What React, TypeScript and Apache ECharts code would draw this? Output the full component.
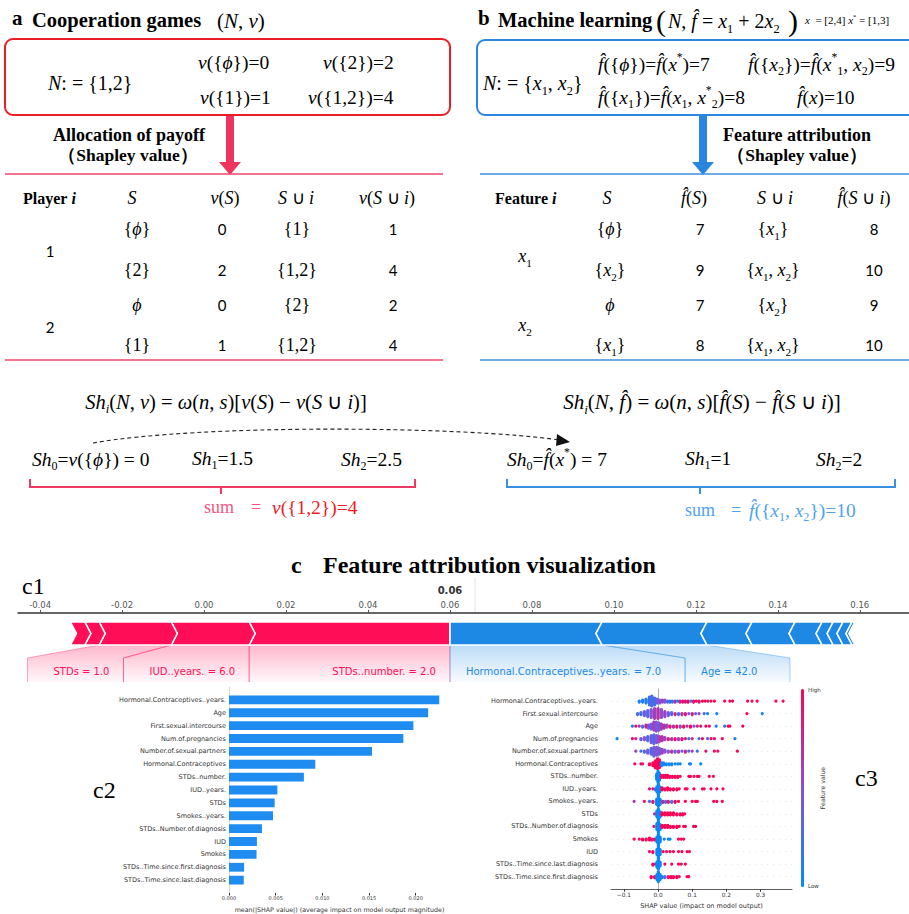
import React, { useEffect, useRef } from 'react';
import * as echarts from 'echarts';

const SERIF = "'Liberation Serif','Times New Roman',serif";
const SANS = "'DejaVu Sans',sans-serif";
const CAL = "Lato,'Open Sans',sans-serif";

// ---------- panel a data ----------
const coopSetValues = ['~v~({~ϕ~})=0', '~v~({2})=2', '~v~({1})=1', '~v~({1,2})=4'];
const tableAHeader = ['Player ~i~', '~S~', '~v~(~S~)', '~S~ ∪ ~i~', '~v~(~S~ ∪ ~i~)'];
const tableAPlayers = ['1', '2'];
const tableAS = ['{~ϕ~}', '{2}', '~ϕ~', '{1}'];
const tableAvS = ['0', '2', '0', '1'];
const tableASi = ['{1}', '{1,2}', '{2}', '{1,2}'];
const tableAvSi = ['1', '4', '2', '4'];
const shapA = ['~Sh~_{0}=~v~({~ϕ~}) = 0', '~Sh~_{1}=1.5', '~Sh~_{2}=2.5'];

// ---------- panel b data ----------
const mlSetValues = [
  '~f\u0302~({~ϕ~})=~f\u0302~(~x~^{*})=7',
  '~f\u0302~({~x~_{2}})=~f\u0302~(~x~^{*}_{1}, ~x~_{2})=9',
  '~f\u0302~({~x~_{1}})=~f\u0302~(~x~_{1}, ~x~^{*}_{2})=8',
  '~f\u0302~(~x~)=10',
];
const tableBHeader = ['Feature ~i~', '~S~', '~f\u0302~(~S~)', '~S~ ∪ ~i~', '~f\u0302~(~S~ ∪ ~i~)'];
const tableBFeatures = ['~x~_{1}', '~x~_{2}'];
const tableBS = ['{~ϕ~}', '{~x~_{2}}', '~ϕ~', '{~x~_{1}}'];
const tableBfS = ['7', '9', '7', '8'];
const tableBSi = ['{~x~_{1}}', '{~x~_{1}, ~x~_{2}}', '{~x~_{2}}', '{~x~_{1}, ~x~_{2}}'];
const tableBfSi = ['8', '10', '9', '10'];
const shapB = ['~Sh~_{0}=~f\u0302~(~x~^{*}) = 7', '~Sh~_{1}=1', '~Sh~_{2}=2'];

// ---------- c1 force plot data ----------
const forceOut = 0.06;
const forceTicks = [-0.04, -0.02, 0, 0.02, 0.04, 0.06, 0.08, 0.1, 0.12, 0.14, 0.16];
const redFeat = ['STDs..number.', 'IUD..years.', 'STDs', '', ''];
const redFeatVal = ['2.0', '6.0', '1.0', '', ''];
const redShap = [0.049, 0.019, 0.0176, 0.0035, 0.0035];
const blueFeat = ['Hormonal.Contraceptives..years.', 'Age', '', '', '', '', '', '', ''];
const blueFeatVal = ['7.0', '42.0', '', '', '', '', '', '', ''];
const blueShap = [0.0371, 0.0256, 0.011, 0.0105, 0.0066, 0.0027, 0.0024, 0.0022, 0.0007];

// ---------- c2 bar data ----------
const c2Features = [
  'Hormonal.Contraceptives..years.', 'Age', 'First.sexual.intercourse', 'Num.of.pregnancies',
  'Number.of.sexual.partners', 'Hormonal.Contraceptives', 'STDs..number.', 'IUD..years.', 'STDs',
  'Smokes..years.', 'STDs..Number.of.diagnosis', 'IUD', 'Smokes',
  'STDs..Time.since.first.diagnosis', 'STDs..Time.since.last.diagnosis',
];
const c2Values = [0.02252, 0.02133, 0.01975, 0.01867, 0.01532, 0.00924, 0.00802, 0.00518, 0.00489,
  0.00471, 0.00353, 0.00299, 0.00295, 0.00162, 0.00158];
const c2Ticks = [0, 0.005, 0.01, 0.015, 0.02];

// ---------- c3 beeswarm data: [shap, featureValue(0 low..1 high), count] ----------
const c3Features = [
  'Hormonal.Contraceptives..years.', 'First.sexual.intercourse', 'Age', 'Num.of.pregnancies',
  'Number.of.sexual.partners', 'Hormonal.Contraceptives', 'STDs..number.', 'IUD..years.',
  'Smokes..years.', 'STDs', 'STDs..Number.of.diagnosis', 'Smokes', 'IUD',
  'STDs..Time.since.last.diagnosis', 'STDs..Time.since.first.diagnosis',
];
const c3Ticks = [-0.1, 0, 0.1, 0.2, 0.3];
const hcYears = [[-0.055, 0.1, 2], [-0.045, 0.1, 3], [-0.035, 0.15, 5], [-0.025, 0.2, 9], [-0.018, 0.3, 11], [-0.01, 0.2, 8], [-0.003, 0.4, 5], [0.005, 0.5, 4], [0.013, 0.6, 3], [0.02, 0.5, 3],
  [0.028, 0.3, 2], [0.035, 0.1, 2], [0.042, 0.2, 2], [0.05, 0.7, 2], [0.057, 0.1, 1], [0.064, 0.8, 2], [0.072, 0.9, 2], [0.08, 0.85, 2], [0.088, 0.95, 2], [0.096, 0.3, 1], [0.104, 0.9, 2], [0.112, 0.95, 1], [0.12, 0.9, 2], [0.13, 1, 1], [0.138, 0.95, 1], [0.146, 0.9, 1], [0.155, 1, 1], [0.165, 0.95, 1], [0.195, 1, 1], [0.21, 0.9, 1], [0.218, 1, 1], [0.262, 1, 1], [0.275, 0.95, 1], [0.29, 1, 1], [0.345, 1, 1], [0.366, 0.95, 1]];
const firstSex = [[-0.06, 0.3, 2], [-0.05, 0.2, 3], [-0.04, 0.4, 5], [-0.03, 0.3, 7], [-0.02, 0.5, 9], [-0.01, 0.6, 11], [0.0, 0.7, 11], [0.01, 0.5, 9], [0.02, 0.6, 6], [0.03, 0.4, 4],
  [0.04, 0.3, 3], [0.05, 0.8, 2], [0.06, 0.2, 2], [0.07, 0.7, 2], [0.08, 0.9, 2], [0.09, 0.4, 1], [0.1, 0.8, 2], [0.11, 0.3, 1], [0.12, 0.6, 1], [0.135, 0.2, 1], [0.145, 0.1, 1], [0.172, 0.05, 1], [0.26, 1, 1], [0.305, 0.05, 1]];
const age = [[-0.075, 0.1, 1], [-0.065, 0.9, 1], [-0.055, 0.7, 1], [-0.045, 0.2, 2], [-0.035, 0.8, 3], [-0.028, 0.5, 4], [-0.02, 0.4, 6], [-0.012, 0.6, 9], [-0.005, 0.5, 10], [0.003, 0.4, 8], [0.01, 0.6, 6], [0.018, 0.7, 4], [0.026, 0.6, 3],
  [0.035, 0.9, 2], [0.045, 0.7, 2], [0.055, 0.85, 2], [0.065, 0.6, 2], [0.075, 0.9, 2], [0.085, 0.7, 1], [0.095, 0.95, 2], [0.105, 0.5, 1], [0.115, 0.8, 1], [0.125, 0.9, 1], [0.14, 1, 1], [0.15, 0.9, 1], [0.17, 0.1, 1], [0.195, 0.1, 1], [0.205, 0.95, 1], [0.21, 1, 1], [0.248, 1, 1]];
const numPreg = [[-0.12, 0.05, 1], [-0.075, 0.9, 1], [-0.065, 0.8, 1], [-0.05, 0.4, 2], [-0.04, 0.5, 3], [-0.03, 0.3, 5], [-0.02, 0.4, 8], [-0.012, 0.3, 10], [-0.004, 0.5, 8], [0.004, 0.6, 6], [0.012, 0.7, 5], [0.02, 0.6, 3],
  [0.03, 0.8, 2], [0.04, 0.7, 2], [0.05, 0.9, 2], [0.06, 0.6, 2], [0.07, 0.85, 2], [0.08, 0.9, 1], [0.09, 0.1, 1], [0.1, 0.8, 1], [0.12, 0.2, 1], [0.13, 0.9, 1], [0.145, 0.3, 1], [0.155, 0.95, 1], [0.165, 0.9, 1], [0.188, 1, 1], [0.225, 0.1, 1]];
const numPartners = [[-0.065, 0.6, 1], [-0.05, 0.2, 1], [-0.04, 0.3, 2], [-0.03, 0.4, 4], [-0.02, 0.3, 7], [-0.012, 0.4, 10], [-0.004, 0.5, 9], [0.004, 0.4, 7], [0.012, 0.6, 5], [0.02, 0.5, 3],
  [0.03, 0.5, 2], [0.04, 0.7, 2], [0.05, 0.4, 2], [0.06, 0.6, 2], [0.07, 0.5, 1], [0.08, 0.7, 2], [0.09, 0.3, 1], [0.1, 0.6, 1], [0.115, 0.2, 1], [0.14, 0.9, 1], [0.165, 0.95, 1], [0.175, 0.9, 1], [0.232, 1, 1]];
const hc = [[-0.068, 1, 1], [-0.05, 0.95, 1], [-0.045, 0.9, 1], [-0.025, 0.95, 2], [-0.015, 1, 4], [-0.008, 1, 8], [-0.002, 0.95, 11], [0.004, 1, 9], [0.01, 0.1, 4], [0.016, 0.05, 3], [0.024, 0.05, 2], [0.032, 0, 2], [0.04, 0.05, 2], [0.05, 0, 1], [0.058, 0.05, 1], [0.065, 0, 1], [0.092, 0, 1], [0.095, 0.05, 1], [0.125, 0, 1]];
const stdsNumber = [[-0.004, 0, 6], [0, 0, 12], [0.004, 0.05, 8], [0.01, 0.9, 3], [0.016, 1, 3], [0.022, 0.95, 3], [0.028, 1, 3], [0.035, 0.9, 2], [0.042, 1, 2], [0.05, 0.95, 2], [0.058, 1, 2], [0.065, 0.9, 1], [0.09, 1, 1], [0.095, 1, 1], [0.105, 0.95, 1], [0.115, 1, 1], [0.12, 1, 1], [0.15, 1, 1], [0.162, 0.95, 1]];
const iudYears = [[-0.025, 0.9, 1], [-0.015, 0.95, 1], [-0.008, 0.3, 2], [-0.003, 0, 6], [0.001, 0, 12], [0.005, 0.05, 6], [0.012, 1, 3], [0.02, 0.95, 2], [0.028, 1, 3], [0.036, 0.9, 2], [0.045, 1, 2], [0.055, 0.95, 2], [0.062, 1, 1], [0.08, 1, 1], [0.085, 0.95, 1], [0.105, 1, 1], [0.13, 1, 1], [0.135, 0.95, 1], [0.155, 1, 1], [0.172, 1, 1], [0.19, 0.95, 1]];
const smokesYears = [[-0.07, 0.6, 1], [-0.04, 0.9, 1], [-0.025, 0.2, 1], [-0.015, 0.9, 2], [-0.004, 0, 6], [0.001, 0.05, 11], [0.006, 0, 6], [0.014, 0.8, 2], [0.022, 0.3, 2], [0.03, 0.9, 2], [0.04, 0.2, 2], [0.05, 0.95, 2], [0.06, 1, 1], [0.08, 1, 1], [0.1, 1, 1], [0.11, 0.95, 1], [0.115, 1, 1], [0.163, 1, 1], [0.172, 0.95, 1], [0.188, 1, 1]];
const stds = [[-0.01, 0.9, 1], [-0.003, 0, 7], [0.001, 0, 12], [0.006, 0.05, 6], [0.012, 1, 3], [0.02, 1, 3], [0.028, 0.95, 3], [0.036, 1, 3], [0.045, 1, 3], [0.055, 0.95, 2], [0.065, 1, 2], [0.072, 1, 2], [0.078, 0.95, 1]];
const stdsNumDiag = [[-0.012, 0.9, 1], [-0.003, 0, 7], [0.001, 0, 12], [0.006, 0.05, 6], [0.012, 1, 3], [0.02, 0.95, 3], [0.028, 1, 3], [0.036, 1, 2], [0.045, 0.95, 2], [0.055, 1, 2], [0.062, 1, 1], [0.075, 1, 1], [0.08, 0.95, 1], [0.104, 1, 1], [0.11, 1, 1]];
const smokes = [[-0.07, 1, 1], [-0.055, 0.9, 1], [-0.045, 1, 2], [-0.035, 0.95, 2], [-0.025, 1, 3], [-0.018, 0.9, 2], [-0.01, 1, 2], [-0.003, 0, 6], [0.001, 0, 12], [0.006, 0.05, 6], [0.018, 0.1, 1], [0.03, 0, 1], [0.035, 0.05, 1], [0.06, 1, 1], [0.068, 0.95, 1], [0.075, 1, 1]];
const iud = [[-0.025, 0.95, 1], [-0.015, 1, 2], [-0.003, 0, 6], [0.001, 0, 12], [0.006, 0.05, 6], [0.015, 1, 1], [0.025, 0.95, 1], [0.035, 1, 1], [0.045, 1, 1], [0.06, 0.95, 1], [0.07, 1, 1], [0.085, 1, 1], [0.092, 0.95, 1]];
const stdsTimeLast = [[-0.015, 1, 2], [-0.008, 0.9, 1], [-0.003, 0, 6], [0.001, 0, 11], [0.006, 0.05, 5], [0.02, 1, 1], [0.04, 0.95, 1], [0.06, 1, 1], [0.068, 0.95, 1], [0.08, 1, 1]];
const stdsTimeFirst = [[-0.02, 1, 2], [-0.01, 0.9, 2], [-0.003, 0, 6], [0.001, 0, 11], [0.006, 0.05, 6], [0.012, 0.1, 2], [0.02, 0.3, 2], [0.03, 0.9, 2], [0.038, 1, 2], [0.045, 0.95, 2], [0.055, 1, 2], [0.062, 0.9, 1], [0.085, 1, 1], [0.09, 0.95, 1]];
const c3Rows = [hcYears, firstSex, age, numPreg, numPartners, hc, stdsNumber, iudYears, smokesYears, stds, stdsNumDiag, smokes, iud, stdsTimeLast, stdsTimeFirst];

// ---------- helpers ----------
function parseMarkup(src: string): string {
  let out = '';
  let it = false;
  let mode = '';
  let buf = '';
  const flush = () => {
    if (!buf) return;
    const key = mode ? mode + (it ? 'i' : '') : (it ? 'i' : '');
    out += key ? `{${key}|${buf}}` : buf;
    buf = '';
  };
  for (let k = 0; k < src.length; k++) {
    const ch = src[k];
    if (ch === '~') { flush(); it = !it; continue; }
    if ((ch === '_' || ch === '^') && src[k + 1] === '{') { flush(); mode = ch === '_' ? 'sb' : 'sp'; k++; continue; }
    if (ch === '}' && mode) { flush(); mode = ''; continue; }
    buf += ch;
  }
  flush();
  return out;
}

type TOpt = { fs: number; fam?: string; bold?: boolean; color?: string; align?: string; rot?: number };
function T(x: number, y: number, markup: string, o: TOpt): any {
  const fam = o.fam || SERIF;
  const weight = o.bold ? 'bold' : 'normal';
  const color = o.color || '#000';
  const hasScript = /[_^]\{/.test(markup);
  const base: any = { fontSize: o.fs, fontFamily: fam, fontWeight: weight, fill: color };
  if (hasScript) base.lineHeight = Math.round(o.fs * 1.34);
  const sbs = o.fs * 0.62, sps = o.fs * 0.6;
  const rich: any = {
    i: { ...base, fontStyle: 'italic' },
    sb: { ...base, fontSize: sbs, verticalAlign: 'bottom' },
    sbi: { ...base, fontSize: sbs, verticalAlign: 'bottom', fontStyle: 'italic' },
    sp: { ...base, fontSize: sps, verticalAlign: 'top' },
    spi: { ...base, fontSize: sps, verticalAlign: 'top', fontStyle: 'italic' },
  };
  const align = o.align || 'left';
  return {
    type: 'text', x, y, rotation: o.rot || 0, silent: true,
    style: {
      text: parseMarkup(markup), rich, ...base, fontStyle: 'normal',
      align, textAlign: align, verticalAlign: 'middle', textVerticalAlign: 'middle',
    },
  };
}

function line(x1: number, y1: number, x2: number, y2: number, stroke: string, w: number): any {
  return { type: 'line', silent: true, shape: { x1, y1, x2, y2 }, style: { stroke, lineWidth: w } };
}
function poly(points: number[][], fill: string): any {
  return { type: 'polygon', silent: true, shape: { points }, style: { fill } };
}

let _ctx: CanvasRenderingContext2D | null = null;
function textW(s: string, font: string): number {
  if (!_ctx) _ctx = document.createElement('canvas').getContext('2d');
  if (!_ctx) return s.length * 5.5;
  _ctx.font = font;
  return _ctx.measureText(s).width;
}

function swarm(rows: number[][][]): number[][] {
  const pts: number[][] = [];
  rows.forEach((row, r) => {
    const used = new Map<number, number>();
    row.forEach(([x, fv, n]) => {
      for (let k = 0; k < n; k++) {
        const bin = Math.round(x / 0.004);
        const c = used.get(bin) || 0;
        used.set(bin, c + 1);
        const off = c === 0 ? 0 : (c % 2 === 1 ? 1 : -1) * Math.ceil(c / 2) * 0.078;
        pts.push([x, r + off, fv]);
      }
    });
  });
  return pts;
}

const RED = '#ff0d57';
const BLUE = '#1e88e5';

function buildOption(): any {
  const segs: number[][] = [];
  let cur = forceOut;
  redShap.forEach((v, i) => { segs.push([cur - v, cur, 0, i === 0 ? 1 : 0, i]); cur -= v; });
  cur = forceOut;
  blueShap.forEach((v, i) => { segs.push([cur, cur + v, 1, i === 0 ? 1 : 0, i]); cur += v; });
  const labels: { side: number; a: number; b: number; text: string }[] = [];
  segs.forEach((s) => {
    const side = s[2], i = s[4];
    const name = side === 0 ? redFeat[i] : blueFeat[i];
    const val = side === 0 ? redFeatVal[i] : blueFeatVal[i];
    if (name) labels.push({ side, a: s[0], b: s[1], text: `${name} = ${val}` });
  });
  const labelData = labels.map((l) => [l.a, l.b, l.side]);
  const LFONT = "10px 'DejaVu Sans'";

  const els: any[] = [];
  // ---- panel a ----
  els.push(T(12, 18, 'a', { fs: 21, bold: true }));
  els.push(T(32, 20, 'Cooperation games', { fs: 20.5, bold: true }));
  els.push(T(217, 21, '(~N~, ~v~)', { fs: 21 }));
  els.push({ type: 'rect', silent: true, shape: { x: 5, y: 39, width: 445, height: 76, r: 8 }, style: { fill: 'none', stroke: '#ec1c24', lineWidth: 2 } });
  els.push(T(48, 83, '~N~: = {1,2}', { fs: 20 }));
  els.push(T(198, 62, coopSetValues[0], { fs: 19.5 }));
  els.push(T(323, 62, coopSetValues[1], { fs: 19.5 }));
  els.push(T(200, 97, coopSetValues[2], { fs: 19.5 }));
  els.push(T(308, 97, coopSetValues[3], { fs: 19.5 }));
  els.push({ type: 'rect', silent: true, shape: { x: 226, y: 116, width: 8, height: 47 }, style: { fill: '#ee3560' } });
  els.push(poly([[219, 162], [241, 162], [230, 175]], '#ee3560'));
  els.push(T(129, 135, 'Allocation of payoff', { fs: 18, bold: true, align: 'center' }));
  els.push(T(128, 155, '（Shapley value）', { fs: 17.5, bold: true, align: 'center' }));
  els.push(line(5, 174, 443, 174, '#f0446c', 1.5));
  const colA = [23, 132, 225, 296, 387];
  const rowY = [229, 270, 305, 345];
  els.push(T(colA[0], 198, tableAHeader[0], { fs: 16, bold: true }));
  for (let c = 1; c < 5; c++) els.push(T(colA[c], 198, tableAHeader[c], { fs: 18, align: 'center' }));
  els.push(T(50, 251, tableAPlayers[0], { fs: 15, fam: CAL, align: 'center' }));
  els.push(T(50, 327, tableAPlayers[1], { fs: 15, fam: CAL, align: 'center' }));
  rowY.forEach((y, r) => {
    els.push(T(137, y, tableAS[r], { fs: 18, align: 'center' }));
    els.push(T(222, y, tableAvS[r], { fs: 15, fam: CAL, align: 'center' }));
    els.push(T(297, y, tableASi[r], { fs: 18, align: 'center' }));
    els.push(T(393, y, tableAvSi[r], { fs: 15, fam: CAL, align: 'center' }));
  });
  els.push(line(5, 360, 443, 360, '#f0446c', 1.5));

  // ---- panel b ----
  els.push(T(478, 18, 'b', { fs: 21, bold: true }));
  els.push(T(498, 20, 'Machine learning', { fs: 20.5, bold: true }));
  els.push(T(656, 20, '(', { fs: 30 }));
  els.push(T(668, 21, '~N~, ~f\u0302~ = ~x~_{1} + 2~x~_{2}', { fs: 20 }));
  els.push(T(788, 20, ')', { fs: 30 }));
  els.push(T(805, 20, '~x~  = [2,4] ~x~^{*} = [1,3]', { fs: 11 }));
  els.push({ type: 'rect', silent: true, shape: { x: 477, y: 40, width: 450, height: 75, r: 8 }, style: { fill: 'none', stroke: '#2b87e3', lineWidth: 2 } });
  els.push(T(483, 83, '~N~: = {~x~_{1}, ~x~_{2}}', { fs: 20 }));
  els.push(T(598, 64, mlSetValues[0], { fs: 19.5 }));
  els.push(T(748, 64, mlSetValues[1], { fs: 19.5 }));
  els.push(T(598, 97, mlSetValues[2], { fs: 19.5 }));
  els.push(T(797, 97, mlSetValues[3], { fs: 19.5 }));
  els.push({ type: 'rect', silent: true, shape: { x: 699, y: 116, width: 8, height: 47 }, style: { fill: '#2a85e0' } });
  els.push(poly([[692, 162], [714, 162], [703, 175]], '#2a85e0'));
  els.push(T(797, 135, 'Feature attribution', { fs: 18, bold: true, align: 'center' }));
  els.push(T(797, 155, '（Shapley value）', { fs: 17.5, bold: true, align: 'center' }));
  els.push(line(480, 174, 909, 174, '#3d8fe0', 1.5));
  const colB = [495, 607, 694, 775, 864];
  els.push(T(colB[0], 198, tableBHeader[0], { fs: 16, bold: true }));
  for (let c = 1; c < 5; c++) els.push(T(colB[c], 198, tableBHeader[c], { fs: 18, align: 'center' }));
  els.push(T(525, 256, tableBFeatures[0], { fs: 18, align: 'center' }));
  els.push(T(525, 325, tableBFeatures[1], { fs: 18, align: 'center' }));
  rowY.forEach((y, r) => {
    els.push(T(610, y, tableBS[r], { fs: 18, align: 'center' }));
    els.push(T(700, y, tableBfS[r], { fs: 15, fam: CAL, align: 'center' }));
    els.push(T(773, y, tableBSi[r], { fs: 18, align: 'center' }));
    els.push(T(874, y, tableBfSi[r], { fs: 15, fam: CAL, align: 'center' }));
  });
  els.push(line(480, 360, 909, 360, '#3d8fe0', 1.5));

  // ---- formulas ----
  els.push(T(226, 402, '~Sh~_{~i~}(~N~, ~v~) = ~ω~(~n~, ~s~)[~v~(~S~) − ~v~(~S~ ∪ ~i~)]', { fs: 20.5, align: 'center' }));
  els.push(T(702, 402, '~Sh~_{~i~}(~N~, ~f\u0302~) = ~ω~(~n~, ~s~)[~f\u0302~(~S~) − ~f\u0302~(~S~ ∪ ~i~)]', { fs: 21, align: 'center' }));
  els.push({ type: 'bezierCurve', silent: true, shape: { x1: 93, y1: 443, cpx1: 200, cpy1: 424, cpx2: 460, cpy2: 426, x2: 560, y2: 440 }, style: { stroke: '#222', lineWidth: 1.1, lineDash: [4, 3], fill: 'none' } });
  els.push(poly([[557, 434], [570, 442], [556, 446]], '#111'));
  els.push(T(32, 459, shapA[0], { fs: 19.5 }));
  els.push(T(192, 458, shapA[1], { fs: 19.5 }));
  els.push(T(341, 459, shapA[2], { fs: 19.5 }));
  els.push(T(507, 459, shapB[0], { fs: 19.5 }));
  els.push(T(685, 458, shapB[1], { fs: 19.5 }));
  els.push(T(816, 459, shapB[2], { fs: 19.5 }));
  els.push({ type: 'polyline', silent: true, shape: { points: [[30, 479], [30, 487], [415, 487], [415, 479]] }, style: { stroke: '#ee3a62', lineWidth: 2, fill: 'none' } });
  els.push(line(221, 487, 221, 494, '#ee3a62', 2));
  els.push({ type: 'polyline', silent: true, shape: { points: [[507, 479], [507, 487], [895, 487], [895, 479]] }, style: { stroke: '#3a8fe0', lineWidth: 2, fill: 'none' } });
  els.push(line(700, 487, 700, 494, '#3a8fe0', 2));
  els.push(T(204, 507, 'sum', { fs: 18, color: '#f2577e' }));
  els.push(T(251, 507, '=', { fs: 18, color: '#f2577e' }));
  els.push(T(272, 507, '~v~({1,2})=4', { fs: 19.5, color: '#ee1c24' }));
  els.push(T(685, 510, 'sum', { fs: 18, color: '#4ea3ee' }));
  els.push(T(731, 510, '=', { fs: 18, color: '#4ea3ee' }));
  els.push(T(749, 510, '~f\u0302~({~x~_{1}, ~x~_{2}})=10', { fs: 19.5, color: '#4ea3ee' }));

  // ---- panel c ----
  els.push(T(291, 565, 'c', { fs: 24, bold: true }));
  els.push(T(323, 565, 'Feature attribution visualization', { fs: 24, bold: true }));
  els.push(T(22, 586, 'c1', { fs: 24 }));
  els.push(T(93, 790, 'c2', { fs: 24 }));
  els.push(T(855, 778, 'c3', { fs: 24 }));
  els.push(T(808, 690, 'High', { fs: 5.5, fam: SANS, color: '#333' }));
  els.push(T(808, 886, 'Low', { fs: 5.5, fam: SANS, color: '#333' }));
  els.push(T(822, 788, 'Feature value', { fs: 6.2, fam: SANS, color: '#333', align: 'center', rot: Math.PI / 2 }));
  els.push(line(475, 578, 475, 612, '#e2e2e2', 1));

  const grad = (rgb: string) => new echarts.graphic.LinearGradient(0, 0, 0, 1, [
    { offset: 0, color: `rgba(${rgb},0.30)` }, { offset: 1, color: `rgba(${rgb},0.03)` },
  ]);

  const labelRender = (params: any, api: any) => {
    const cs = params.coordSys;
    const px = (v: number) => api.coord([v, 0])[0];
    const L = labels[params.dataIndex];
    const yB = cs.y + 32, yT = yB + 13, yBot = yT + 24;
    let edge = px(forceOut);
    let x0 = 0, x1 = 0;
    for (const l of labels) {
      if (l.side !== L.side) continue;
      const segW = Math.abs(px(l.b) - px(l.a));
      const w = Math.max(segW, textW(l.text, LFONT) + 40);
      if (l.side === 0) { x0 = edge - w; x1 = edge; edge = x0; } else { x0 = edge; x1 = edge + w; edge = x1; }
      if (l === L) break;
    }
    const a = px(api.value(0)), b = px(api.value(1));
    const rgb = L.side === 0 ? '255,13,87' : '30,136,229';
    const col = L.side === 0 ? RED : BLUE;
    return {
      type: 'group',
      children: [
        { type: 'polygon', shape: { points: [[a, yB], [b, yB], [x1, yT], [x1, yBot], [x0, yBot], [x0, yT]] }, style: { fill: grad(rgb) } },
        { type: 'polyline', shape: { points: [[x0, yBot], [x0, yT], [a, yB]] }, style: { stroke: `rgba(${rgb},0.45)`, lineWidth: 0.8, fill: 'none' } },
        { type: 'polyline', shape: { points: [[b, yB], [x1, yT], [x1, yBot]] }, style: { stroke: `rgba(${rgb},0.45)`, lineWidth: 0.8, fill: 'none' } },
        {
          type: 'text', x: L.side === 0 ? x1 - 14 : x0 + 16, y: (yT + yBot) / 2 + 1,
          style: { text: L.text, fill: col, fontSize: 10, fontFamily: 'DejaVu Sans', align: L.side === 0 ? 'right' : 'left', textAlign: L.side === 0 ? 'right' : 'left', verticalAlign: 'middle', textVerticalAlign: 'middle' },
        },
      ],
    };
  };

  const barRender = (params: any, api: any) => {
    const cs = params.coordSys;
    const a = api.coord([api.value(0), 0])[0];
    const b = api.coord([api.value(1), 0])[0];
    const side = api.value(2), flat = api.value(3);
    const yT = cs.y + 9, yB = cs.y + 32, yM = (yT + yB) / 2, t = 6;
    let pts: number[][];
    if (side === 0) {
      const right = flat ? [[b, yT], [b, yB]] : [[b, yT], [b + t, yM], [b, yB]];
      pts = [[a, yT], ...right, [a, yB], [a + t, yM]];
    } else {
      const left = flat ? [[a, yB], [a, yT]] : [[a, yB], [a - t, yM], [a, yT]];
      pts = [...left, [b, yT], [b - t, yM], [b, yB]];
    }
    const children: any[] = [
      { type: 'polygon', shape: { points: pts }, style: { fill: side === 0 ? RED : BLUE, stroke: '#fff', lineWidth: 1.6 } },
    ];
    if (side === 0 && flat) {
      children.push({ type: 'text', x: b, y: cs.y - 23, style: { text: forceOut.toFixed(2), fill: '#333', fontSize: 10, fontWeight: 'bold', fontFamily: 'DejaVu Sans', align: 'center', textAlign: 'center', verticalAlign: 'middle', textVerticalAlign: 'middle' } });
    }
    return { type: 'group', children };
  };

  const swarmData = swarm(c3Rows);

  return {
    animation: false,
    backgroundColor: '#fff',
    grid: [
      { left: 18, right: 0, top: 613, height: 70, outerBoundsMode: 'none' },
      { left: 229, right: 459, top: 687, bottom: 21, outerBoundsMode: 'none' },
      { left: 611, right: 117, top: 688.5, bottom: 24.8, outerBoundsMode: 'none' },
    ],
    xAxis: [
      {
        gridIndex: 0, type: 'value', position: 'top', min: -0.0454, max: 0.172,
        axisLine: { onZero: false, lineStyle: { color: '#333', width: 1.5 } },
        axisTick: { show: true, customValues: forceTicks, length: 3, lineStyle: { color: '#555' } },
        axisLabel: { customValues: forceTicks, formatter: (v: number) => v.toFixed(2), fontSize: 8.5, color: '#555', margin: 4, fontFamily: SANS },
        splitLine: { show: false },
      },
      {
        gridIndex: 1, type: 'value', min: 0, max: 0.02367,
        axisLine: { onZero: false, lineStyle: { color: '#333', width: 0.8 } },
        axisTick: { show: true, customValues: c2Ticks, length: 2.5, lineStyle: { color: '#333' } },
        axisLabel: { customValues: c2Ticks, formatter: (v: number) => v.toFixed(3), fontSize: 5, color: '#333', margin: 2.5, fontFamily: SANS },
        splitLine: { show: false },
        name: 'mean(|SHAP value|) (average impact on model output magnitude)', nameLocation: 'middle', nameGap: 13,
        nameTextStyle: { fontSize: 6.3, color: '#333', fontFamily: SANS },
      },
      {
        gridIndex: 2, type: 'value', min: -0.1376, max: 0.392,
        axisLine: { onZero: false, lineStyle: { color: '#333', width: 0.8 } },
        axisTick: { show: true, customValues: c3Ticks, length: 2.5, lineStyle: { color: '#333' } },
        axisLabel: { customValues: c3Ticks, formatter: (v: number) => (v < 0 ? '−' : '') + Math.abs(v).toFixed(1), fontSize: 5.8, color: '#333', margin: 3, fontFamily: SANS },
        splitLine: { show: false },
        name: 'SHAP value (impact on model output)', nameLocation: 'middle', nameGap: 13,
        nameTextStyle: { fontSize: 6.5, color: '#333', fontFamily: SANS },
      },
    ],
    yAxis: [
      { gridIndex: 0, type: 'value', min: 0, max: 1, show: false },
      {
        gridIndex: 1, type: 'category', inverse: true, boundaryGap: false, data: ['', ...c2Features, ''],
        axisLine: { onZero: false, show: true, lineStyle: { color: '#ccc', width: 0.8 } }, axisTick: { show: false },
        axisLabel: { fontSize: 6.5, color: '#333', margin: 3, fontFamily: SANS, interval: 0 },
      },
      {
        gridIndex: 2, type: 'value', min: -1, max: 15, interval: 1, inverse: true,
        axisLine: { show: false, onZero: false }, axisTick: { show: false }, splitLine: { show: false },
        axisLabel: { formatter: (v: number) => c3Features[Math.round(v)] ?? '', fontSize: 6.5, color: '#333', margin: 13, fontFamily: SANS },
      },
    ],
    visualMap: [{
      type: 'continuous', seriesIndex: 3, dimension: 2, min: 0, max: 1,
      inRange: { color: ['#008bfb', '#8a50d8', '#ff0052'] },
      left: 801, top: 689, itemWidth: 3, itemHeight: 198, padding: 0,
      calculable: false, hoverLink: false, orient: 'vertical',
    }],
    series: [
      { type: 'custom', xAxisIndex: 0, yAxisIndex: 0, data: labelData, encode: { x: [0, 1], y: 2 }, renderItem: labelRender, clip: false, silent: true },
      { type: 'custom', xAxisIndex: 0, yAxisIndex: 0, data: segs, encode: { x: [0, 1], y: 2 }, renderItem: barRender, clip: false, silent: true },
      {
        type: 'bar', xAxisIndex: 1, yAxisIndex: 1, data: ['-', ...c2Values, '-'], barWidth: 8.8,
        itemStyle: { color: '#1e8cf0' }, silent: true,
      },
      {
        type: 'scatter', xAxisIndex: 2, yAxisIndex: 2, data: swarmData, symbolSize: 3.2, silent: true,
        itemStyle: { opacity: 1 }, z: 3,
        markLine: {
          silent: true, symbol: 'none', z: 1, label: { show: false },
          data: [
            { xAxis: 0, lineStyle: { color: '#999', width: 0.8, type: 'solid' } },
            ...c3Features.map((_, r) => ({ yAxis: r, lineStyle: { color: '#ccc', width: 0.5, type: [1, 5] } })),
          ],
        },
      },
    ],
    graphic: { elements: els },
  };
}

export default function App() {
  const ref = useRef<HTMLDivElement>(null);
  useEffect(() => {
    if (!ref.current) return;
    const chart = echarts.init(ref.current, null, { renderer: 'svg' });
    chart.setOption(buildOption());
    return () => chart.dispose();
  }, []);
  return <div ref={ref} style={{ position: 'absolute', left: 0, top: 0, width: 909, height: 914, background: '#fff' }} />;
}
